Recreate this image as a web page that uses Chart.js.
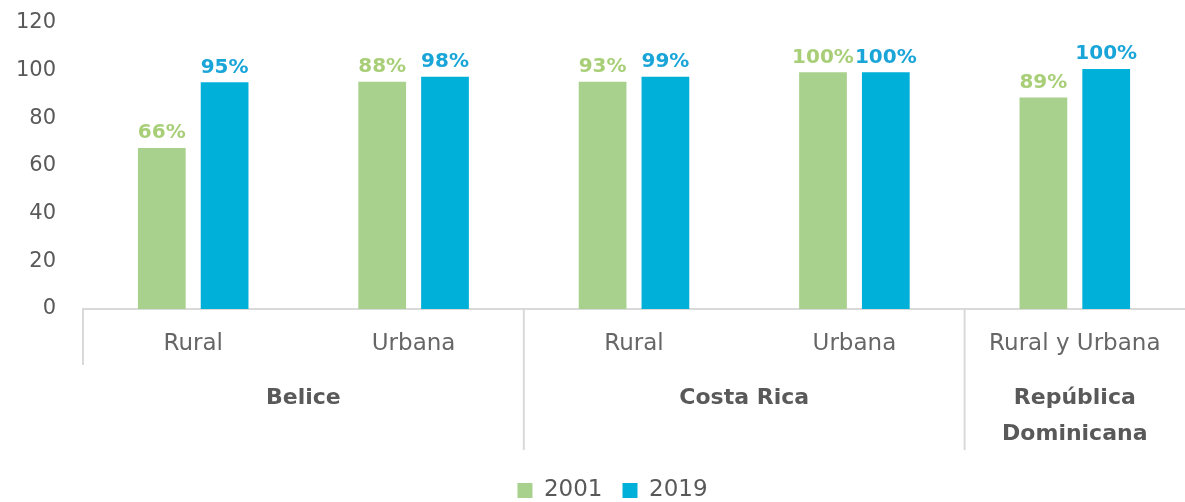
<!DOCTYPE html>
<html>
<head>
<meta charset="utf-8">
<script src="https://cdn.jsdelivr.net/npm/chart.js@4/dist/chart.umd.min.js"></script>
<style>
  html, body { margin: 0; padding: 0; background: #fff; }
  #wrap { width: 1185px; height: 502px; position: relative; }
</style>
</head>
<body>
<div id="wrap"><canvas id="myChart"></canvas></div>
<script>
var categories = ['Rural', 'Urbana', 'Rural', 'Urbana', 'Rural y Urbana'];
var groups = [['Belice'], ['Costa Rica'], ['República', 'Dominicana']];
var groupSizes = [2, 2, 1];
var years = ['2001', '2019'];
var values2001 = [67.6, 95.4, 95.4, 99.3, 88.7];
var values2019 = [95.1, 97.5, 97.5, 99.3, 100.7];
var labels2001 = ['66%', '88%', '93%', '100%', '89%'];
var labels2019 = ['95%', '98%', '99%', '100%', '100%'];
var yTicks = [0, 20, 40, 60, 80, 100, 120];

var FONT = "'DejaVu Sans', sans-serif";

// percentage labels drawn above each bar
var barLabels = {
  id: 'barLabels',
  afterLayout: function(chart) {
    // let the y tick labels use the left padding (they are clipped to the scale box)
    chart.scales.y.left = 0;
  },
  afterDatasetsDraw: function(chart) {
    var ctx = chart.ctx;
    ctx.save();
    ctx.font = 'bold 20px ' + FONT;
    ctx.textAlign = 'center';
    ctx.textBaseline = 'bottom';
    chart.data.datasets.forEach(function(ds, i) {
      var meta = chart.getDatasetMeta(i);
      ctx.fillStyle = ds.labelColor;
      meta.data.forEach(function(bar, j) {
        ctx.fillText(ds.valueLabels[j], bar.x, bar.y - 5);
      });
    });
    ctx.restore();
  }
};

// second level of the x axis: country names and separators
var groupAxis = {
  id: 'groupAxis',
  afterDraw: function(chart) {
    var ctx = chart.ctx;
    var x = chart.scales.x;
    var base = chart.chartArea.bottom;
    var half = (x.getPixelForValue(1) - x.getPixelForValue(0)) / 2;
    ctx.save();
    ctx.strokeStyle = '#d9d9d9';
    ctx.lineWidth = 2;
    ctx.beginPath();
    ctx.moveTo(chart.chartArea.left, base);
    ctx.lineTo(chart.chartArea.left, base + 56);
    ctx.stroke();

    ctx.font = 'bold 22px ' + FONT;
    ctx.fillStyle = '#595959';
    ctx.textAlign = 'center';
    ctx.textBaseline = 'middle';
    var start = 0;
    groups.forEach(function(lines, g) {
      var end = start + groupSizes[g] - 1;
      var left = x.getPixelForValue(start) - half;
      var right = x.getPixelForValue(end) + half;
      var mid = (left + right) / 2;
      lines.forEach(function(t, k) {
        ctx.fillText(t, mid, base + 89 + k * 36);
      });
      if (g < groups.length - 1) {
        ctx.beginPath();
        ctx.moveTo(right, base);
        ctx.lineTo(right, base + 141);
        ctx.stroke();
      }
      start = end + 1;
    });
    ctx.restore();
  }
};

var ctx = document.getElementById('myChart').getContext('2d');
var myChart = new Chart(ctx, {
  type: 'bar',
  data: {
    labels: categories,
    datasets: [{
      label: years[0],
      data: values2001,
      valueLabels: labels2001,
      labelColor: '#a8cf78',
      backgroundColor: '#a9d18e',
      barPercentage: 0.76,
      categoryPercentage: 0.57
    }, {
      label: years[1],
      data: values2019,
      valueLabels: labels2019,
      labelColor: '#1aa5d8',
      backgroundColor: '#00b0d8',
      barPercentage: 0.76,
      categoryPercentage: 0.57
    }]
  },
  options: {
    responsive: true,
    maintainAspectRatio: false,
    animation: false,
    layout: { padding: { top: 23, left: 40, right: 0, bottom: -10 } },
    plugins: {
      tooltip: { enabled: false },
      legend: {
        position: 'bottom',
        labels: {
          boxWidth: 15,
          boxHeight: 15,
          padding: 20,
          color: '#595959',
          font: { family: FONT, size: 23 }
        }
      }
    },
    scales: {
      y: {
        min: 0,
        max: 120,
        afterBuildTicks: function(scale) {
          scale.ticks = yTicks.map(function(v) { return { value: v }; });
        },
        afterFit: function(scale) {
          scale.width = 43;
          scale.paddingTop = 0;
          scale.paddingBottom = 0;
        },
        grid: { display: false, drawTicks: false },
        border: { display: false },
        ticks: {
          padding: 27,
          color: '#595959',
          font: { family: FONT, size: 21 }
        }
      },
      x: {
        afterFit: function(scale) { scale.height = 150; },
        grid: { display: false, drawTicks: false },
        border: { display: true, color: '#d9d9d9', width: 2 },
        ticks: {
          padding: 21,
          color: '#666666',
          maxRotation: 0,
          font: { family: FONT, size: 23 }
        }
      }
    }
  },
  plugins: [barLabels, groupAxis]
});
</script>
</body>
</html>
